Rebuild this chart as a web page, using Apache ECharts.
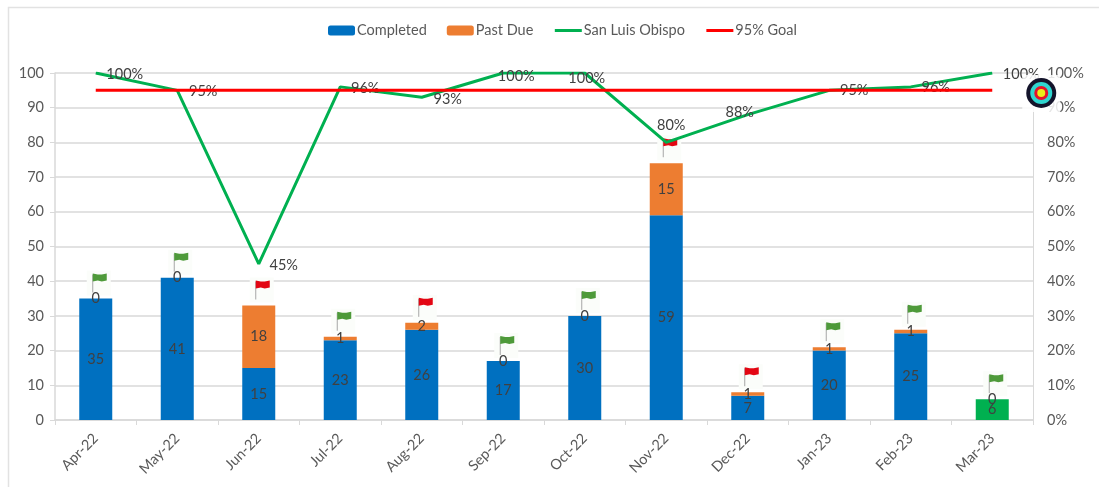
<!DOCTYPE html>
<html>
<head>
<meta charset="utf-8">
<style>
html,body{margin:0;padding:0;background:#fff;}
#main{width:1099px;height:487px;}
</style>
<script src="https://cdn.jsdelivr.net/npm/echarts@6/dist/echarts.min.js"></script>
</head>
<body>
<div id="main"></div>
<script>
var months = ['Apr-22','May-22','Jun-22','Jul-22','Aug-22','Sep-22','Oct-22','Nov-22','Dec-22','Jan-23','Feb-23','Mar-23'];
var completed = [35,41,15,23,26,17,30,59,7,20,25,6];
var pastDue = [0,0,18,1,2,0,0,15,1,1,1,0];
var sanLuis = [100,95,45,96,93,100,100,80,88,95,96,100];
var goal = [95,95,95,95,95,95,95,95,95,95,95,95];

// where each % label sits relative to its point
var pctOffsets = [[29,1],[26,1],[25,1],[25,1],[26,2],[13,3],[2,5],[5,-17],[-8,-2],[25,0],[25,0],[29,1]];

var font = 'Lato';
var labelColor = '#404040';
var axisColor = '#595959';
var lineColor = '#d9d9d9';

function flagItem(params, api){
    var p = api.coord([api.value(0), api.value(1)]);
    var x = p[0], y = p[1];
    var color = api.value(2) >= 95 ? '#4e9a3a' : '#e30613';
    return {
        type:'group',
        children:[
            {type:'rect', shape:{x:x-9, y:y-28, width:24, height:25}, style:{fill:'#fbfdfa'}},
            {type:'line', shape:{x1:x-3, y1:y-6, x2:x-3, y2:y-24}, style:{stroke:'#a6a6a6', lineWidth:1}},
            {type:'polygon', shape:{points:[[x-3,y-25],[x+2,y-24],[x+6,y-24],[x+11,y-25],[x+11,y-18],[x+6,y-17],[x+2,y-18],[x-3,y-17]]}, style:{fill:color}}
        ]
    };
}

function targetItem(params, api){
    var p = api.coord([api.value(0), api.value(1)]);
    var x = p[0] + 49, y = p[1] + 20;
    return {
        type:'group',
        children:[
            {type:'rect', shape:{x:x-19, y:y-18, width:38, height:37}, style:{fill:'rgba(255,255,255,0.85)'}},
            {type:'circle', shape:{cx:x, cy:y, r:15}, style:{fill:'#14142b'}},
            {type:'circle', shape:{cx:x, cy:y, r:11}, style:{fill:'#2fd6d0'}},
            {type:'circle', shape:{cx:x, cy:y, r:7}, style:{fill:'#e4122a'}},
            {type:'circle', shape:{cx:x, cy:y, r:4}, style:{fill:'#ecec18'}}
        ]
    };
}

var barLabel = {show:true, position:'inside', color:labelColor, fontFamily:font, fontSize:14.5};

var option = {
    animation:false,
    backgroundColor:'#fff',
    textStyle:{fontFamily:font},
    graphic:[{
        type:'rect', silent:true, z:-1,
        shape:{x:8.5, y:7.5, width:1120, height:500},
        style:{fill:'none', stroke:'#e2e2e2', lineWidth:1.5}
    }],
    legend:{
        top:18, left:323,
        itemWidth:27, itemHeight:10, itemGap:20,
        textStyle:{color:axisColor, fontFamily:font, fontSize:14.5, padding:[0,0,0,-3]},
        data:['Completed','Past Due',
            {name:'San Luis Obispo', itemStyle:{opacity:0}, lineStyle:{width:3}},
            {name:'95% Goal', itemStyle:{opacity:0}, lineStyle:{width:3}}]
    },
    grid:{left:55, right:66, top:73, bottom:67},
    xAxis:{
        type:'category',
        data:months,
        axisLine:{lineStyle:{color:lineColor, width:1.5}},
        axisTick:{show:true, alignWithLabel:false, length:5, lineStyle:{color:lineColor}},
        axisLabel:{rotate:45, color:axisColor, fontFamily:font, fontSize:14.5, margin:16, interval:0}
    },
    yAxis:[{
        type:'value', min:0, max:100, interval:10,
        axisLine:{show:true, lineStyle:{color:lineColor, width:1.5}},
        axisTick:{show:true, length:5, lineStyle:{color:lineColor}},
        axisLabel:{color:axisColor, fontFamily:font, fontSize:14.5, margin:11},
        splitLine:{lineStyle:{color:lineColor, width:1.5}}
    },{
        type:'value', min:0, max:100, interval:10,
        axisLine:{show:true, lineStyle:{color:lineColor, width:1}},
        axisTick:{show:false},
        axisLabel:{color:axisColor, fontFamily:font, fontSize:14.5, margin:14, formatter:'{value}%'},
        splitLine:{show:false}
    }],
    series:[{
        name:'flags', type:'custom', renderItem:flagItem, z:1, silent:true, clip:false,
        encode:{x:0, y:1},
        data:months.map(function(m,i){ return [i, completed[i]+pastDue[i], sanLuis[i]]; })
    },{
        name:'Completed', type:'bar', stack:'jobs', barWidth:33,
        itemStyle:{color:'#0070c0'},
        label:barLabel,
        data:completed.map(function(v,i){
            return i === completed.length-1 ? {value:v, itemStyle:{color:'#00b050'}} : v;
        })
    },{
        name:'Past Due', type:'bar', stack:'jobs', barWidth:33,
        itemStyle:{color:'#ed7d31'},
        label:barLabel,
        data:pastDue
    },{
        name:'San Luis Obispo', type:'line', yAxisIndex:1, symbol:'circle', symbolSize:0.1, z:4,
        lineStyle:{color:'#00b050', width:3},
        itemStyle:{color:'#00b050'},
        label:{show:true, position:'inside', color:labelColor, fontFamily:font, fontSize:14.5, formatter:'{c}%'},
        data:sanLuis.map(function(v,i){
            return {value:v, label:{offset:pctOffsets[i]}};
        })
    },{
        name:'95% Goal', type:'line', yAxisIndex:1, symbol:'none', z:5,
        lineStyle:{color:'#ff0000', width:3},
        itemStyle:{color:'#ff0000'},
        data:goal
    },{
        name:'target', type:'custom', renderItem:targetItem, yAxisIndex:1, z:6, silent:true, clip:false,
        encode:{x:0, y:1},
        data:[[months.length-1, sanLuis[sanLuis.length-1]]]
    }]
};

echarts.init(document.getElementById('main')).setOption(option);
</script>
</body>
</html>
